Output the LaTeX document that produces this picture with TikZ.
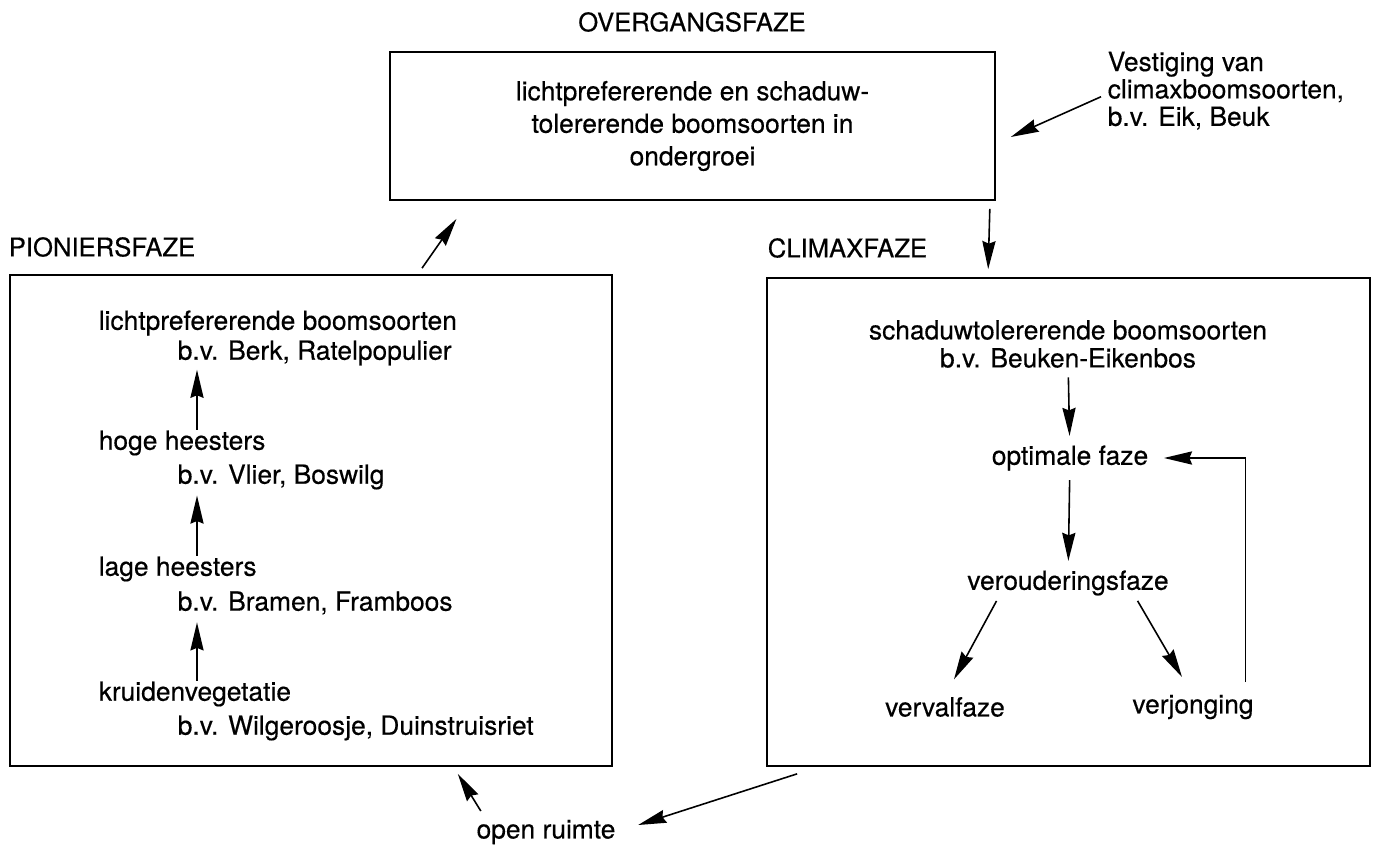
\documentclass[tikz,border=0pt]{standalone}
\usepackage{fontspec}
\setmainfont{TeX Gyre Heros}[FakeBold=0.4]
\usetikzlibrary{arrows.meta,positioning,calc}

\begin{document}
\begin{tikzpicture}[
    x=0.02cm, y=-0.02cm,
    box/.style={rectangle, draw, line width=1pt},
    txt/.style={inner sep=0pt, font=\fontsize{15}{18.5}\selectfont},
    fase/.style={inner sep=0pt, font=\fontsize{14.6}{18.5}\selectfont},
    >={Stealth[length=16pt,width=7.5pt,inset=1.5pt]}, line width=0.9pt
]
    \useasboundingbox (0,0) rectangle (1374,845);

    % Boxes
    \node[box, txt, align=center, minimum width=12.1cm, minimum height=2.96cm] (overg) at (692.5,126)
        {lichtprefererende en schaduw-\\tolererende boomsoorten in\\ondergroei};
    \node[box, minimum width=12.04cm, minimum height=9.82cm] (pion) at (311,520.5) {};
    \node[box, minimum width=12.06cm, minimum height=9.76cm] (climax) at (1068.5,522) {};

    % Fase titles
    \node[fase] (tover) at (692,22) {OVERGANGSFAZE};
    \node[fase, anchor=west] (tpion) at (8,247) {PIONIERSFAZE};
    \node[fase, anchor=west] (tclimax) at (767,248) {CLIMAXFAZE};
    \node[txt, anchor=north west, align=left, font=\fontsize{15}{15.6}\selectfont] (vest) at (1107,51)
        {Vestiging van\\climaxboomsoorten,\\b.v. Eik, Beuk};

    % Pioniersfaze
    \node[txt, anchor=west] (licht) at (98,323) {lichtprefererende boomsoorten};
    \node[txt, anchor=west] (bv1) at (177,353) {b.v. Berk, Ratelpopulier};
    \node[txt, anchor=west] (hoog) at (98,443) {hoge heesters};
    \node[txt, anchor=west] (bv2) at (177,477) {b.v. Vlier, Boswilg};
    \node[txt, anchor=west] (laag) at (98,569) {lage heesters};
    \node[txt, anchor=west] (bv3) at (177,603) {b.v. Bramen, Framboos};
    \node[txt, anchor=west] (kruid) at (98,694) {kruidenvegetatie};
    \node[txt, anchor=west] (bv4) at (177,728) {b.v. Wilgeroosje, Duinstruisriet};
    \coordinate (lcol) at (197,0);

    \draw[->, shorten >=2pt] (lcol |- hoog.north) -- (lcol |- bv1.south);
    \draw[->, shorten >=3pt] (lcol |- laag.north) -- (lcol |- bv2.south);
    \draw[->, shorten >=4pt] (lcol |- kruid.north) -- (lcol |- bv3.south);

    % Climaxfaze
    \node[txt] (schad) at (1068,330) {schaduwtolererende boomsoorten};
    \node[txt] (bv5) at (1068,358) {b.v. Beuken-Eikenbos};
    \node[txt] (optim) at (1070,458) {optimale faze};
    \node[txt] (veroud) at (1068,583) {verouderingsfaze};
    \node[txt] (verval) at (945,707) {vervalfaze};
    \node[txt] (verjong) at (1193,707) {verjonging};

    \draw[->, shorten <=5pt, shorten >=5pt] (bv5) -- (optim);
    \draw[->, shorten <=5pt, shorten >=5pt] (optim) -- (veroud);
    \draw[->, shorten <=3pt] ($(veroud.south west)!0.16!(veroud.south east)$) -- ($(verval.north)+(9,-17)$);
    \draw[->, shorten <=3pt] ($(veroud.south west)!0.83!(veroud.south east)$) -- ($(verjong.north)+(-11,-17)$);
    \draw[->] ($(verjong.north east)+(-9,-12)$) |- ($(optim.east)+(15,0)$);

    % Between the phases
    \node[txt] (open) at (546,832) {open ruimte};
    \draw[->] ($(pion.north)+(111,-6)$) -- ($(overg.south)+(-236,18)$);
    \draw[->] ($(overg.south east)+(-6,8)$) -- ($(climax.north west)+(222,-8)$);
    \draw[->] ($(vest.west)+(-6,6)$) -- ($(overg.east)+(15,11)$);
    \draw[->] ($(climax.south west)+(31,7)$) -- ($(open.east)+(22,-7)$);
    \draw[->] ($(open.north west)+(5,-8)$) -- ($(pion.south east)+(-155,7)$);
\end{tikzpicture}
\end{document}
